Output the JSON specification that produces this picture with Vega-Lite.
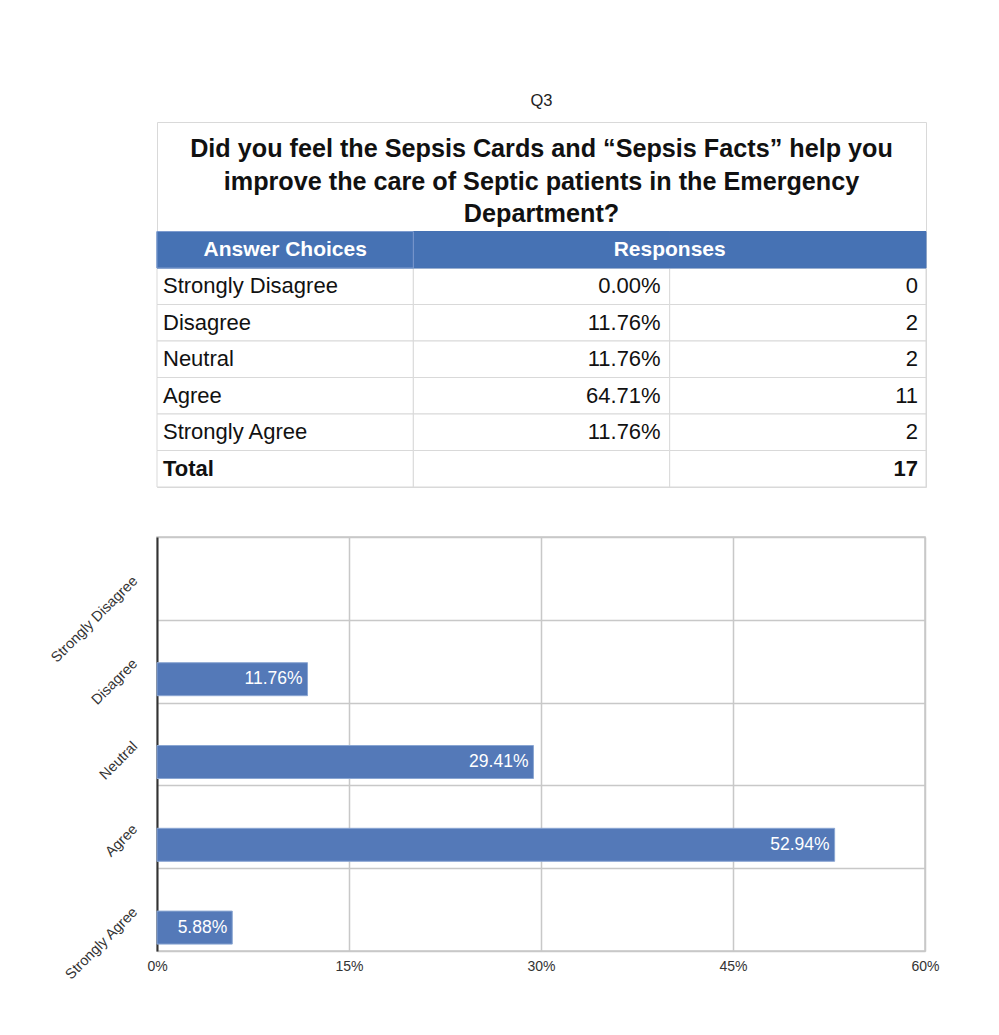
{
  "$schema": "https://vega.github.io/schema/vega-lite/v6.json",
  "background": "white",
  "padding": {"left": 47, "top": 92, "right": 5, "bottom": 5},
  "spacing": 42,
  "config": {"font": "Liberation Sans", "view": {"stroke": null}},
  "datasets": {
    "table": [
      {"choice": "Strongly Disagree", "percent": "0.00%", "count": "0"},
      {"choice": "Disagree", "percent": "11.76%", "count": "2"},
      {"choice": "Neutral", "percent": "11.76%", "count": "2"},
      {"choice": "Agree", "percent": "64.71%", "count": "11"},
      {"choice": "Strongly Agree", "percent": "11.76%", "count": "2"},
      {"choice": "Total", "percent": "", "count": "17"}
    ],
    "chart": [
      {"choice": "Strongly Disagree", "share": 0},
      {"choice": "Disagree", "share": 0.1176},
      {"choice": "Neutral", "share": 0.2941},
      {"choice": "Agree", "share": 0.5294},
      {"choice": "Strongly Agree", "share": 0.0588}
    ]
  },
  "vconcat": [
    {
      "width": 769,
      "height": 365,
      "title": {"text": "Q3", "fontSize": 16.5, "fontWeight": "normal", "color": "#222", "anchor": "middle", "frame": "group", "offset": 13},
      "view": {"stroke": "#d9d9d9"},
      "layer": [
        {
          "data": {"name": "table"},
          "transform": [{"fold": ["choice", "percent", "count"], "as": ["col", "val"]}],
          "mark": {"type": "rect", "fill": "white", "stroke": "#d9d9d9", "strokeWidth": 1},
          "encoding": {
            "x": {"field": "col", "type": "nominal", "scale": {"domain": ["choice", "percent", "count"], "paddingInner": 0, "paddingOuter": 0}, "axis": null},
            "y": {"field": "choice", "type": "nominal", "scale": {"domain": ["t1", "t2", "t3", "head", "Strongly Disagree", "Disagree", "Neutral", "Agree", "Strongly Agree", "Total"], "paddingInner": 0, "paddingOuter": 0}, "axis": null}
          }
        },
        {
          "data": {"values": [{"col": "choice"}, {"col": "percent"}, {"col": "count"}]},
          "mark": {"type": "rect", "fill": "#4672b4", "stroke": "#4672b4", "strokeWidth": 1},
          "encoding": {
            "x": {"field": "col", "type": "nominal"},
            "y": {"datum": "head"}
          }
        },
        {
          "data": {"values": [{"col": "choice"}]},
          "mark": {"type": "rect", "fill": "#4672b4", "stroke": "#7d9bcf", "strokeWidth": 1},
          "encoding": {
            "x": {"field": "col", "type": "nominal"},
            "y": {"datum": "head"}
          }
        },
        {
          "data": {"values": [{"title": "Did you feel the Sepsis Cards and “Sepsis Facts” help you\nimprove the care of Septic patients in the Emergency\nDepartment?"}]},
          "mark": {"type": "text", "fontSize": 25.2, "fontWeight": "bold", "lineBreak": "\n", "lineHeight": 32.5, "color": "#111", "dy": 9},
          "encoding": {
            "x": {"datum": "percent", "bandPosition": 0.5},
            "y": {"datum": "t1", "bandPosition": 0.5},
            "text": {"field": "title"}
          }
        },
        {
          "data": {"values": [{"head": "Answer Choices"}]},
          "mark": {"type": "text", "fontSize": 21, "fontWeight": "bold", "color": "white"},
          "encoding": {
            "x": {"datum": "choice", "bandPosition": 0.5},
            "y": {"datum": "head"},
            "text": {"field": "head"}
          }
        },
        {
          "data": {"values": [{"head": "Responses"}]},
          "mark": {"type": "text", "fontSize": 21, "fontWeight": "bold", "color": "white"},
          "encoding": {
            "x": {"datum": "count", "bandPosition": 0},
            "y": {"datum": "head"},
            "text": {"field": "head"}
          }
        },
        {
          "data": {"name": "table"},
          "transform": [{"filter": "datum.choice !== 'Total'"}],
          "mark": {"type": "text", "fontSize": 22, "align": "left", "dx": 6, "color": "#111"},
          "encoding": {
            "x": {"datum": "choice", "bandPosition": 0},
            "y": {"field": "choice", "type": "nominal"},
            "text": {"field": "choice"}
          }
        },
        {
          "data": {"name": "table"},
          "transform": [{"filter": "datum.choice === 'Total'"}],
          "mark": {"type": "text", "fontSize": 22, "fontWeight": "bold", "align": "left", "dx": 6, "color": "#111"},
          "encoding": {
            "x": {"datum": "choice", "bandPosition": 0},
            "y": {"field": "choice", "type": "nominal"},
            "text": {"field": "choice"}
          }
        },
        {
          "data": {"name": "table"},
          "mark": {"type": "text", "fontSize": 22, "align": "right", "dx": -9, "color": "#111"},
          "encoding": {
            "x": {"datum": "percent", "bandPosition": 1},
            "y": {"field": "choice", "type": "nominal"},
            "text": {"field": "percent"}
          }
        },
        {
          "data": {"name": "table"},
          "transform": [{"filter": "datum.choice !== 'Total'"}],
          "mark": {"type": "text", "fontSize": 22, "align": "right", "dx": -8, "color": "#111"},
          "encoding": {
            "x": {"datum": "count", "bandPosition": 1},
            "y": {"field": "choice", "type": "nominal"},
            "text": {"field": "count"}
          }
        },
        {
          "data": {"name": "table"},
          "transform": [{"filter": "datum.choice === 'Total'"}],
          "mark": {"type": "text", "fontSize": 22, "fontWeight": "bold", "align": "right", "dx": -8, "color": "#111"},
          "encoding": {
            "x": {"datum": "count", "bandPosition": 1},
            "y": {"field": "choice", "type": "nominal"},
            "text": {"field": "count"}
          }
        }
      ]
    },
    {
      "width": 768,
      "height": 414,
      "view": {"stroke": "#c8c8c8", "strokeWidth": 1.5},
      "data": {"name": "chart"},
      "encoding": {
        "y": {
          "field": "choice", "type": "nominal",
          "scale": {"domain": ["Strongly Disagree", "Disagree", "Neutral", "Agree", "Strongly Agree"], "paddingInner": 0, "paddingOuter": 0},
          "axis": {"title": null, "labelAngle": -45, "labelAlign": "right", "labelBaseline": "middle", "labelPadding": 22, "labelFontSize": 14.5, "labelColor": "#333", "ticks": false, "domainColor": "#333", "domainWidth": 2, "grid": true, "gridColor": "#c8c8c8", "gridWidth": 1.5, "tickBand": "extent"}
        },
        "x": {
          "field": "share", "type": "quantitative",
          "scale": {"domain": [0, 0.6], "nice": false},
          "axis": {"title": null, "values": [0, 0.15, 0.3, 0.45, 0.6], "format": ".0%", "labelFontSize": 14, "labelColor": "#333", "ticks": false, "domain": false, "grid": true, "gridColor": "#c8c8c8", "gridWidth": 1.5, "labelPadding": 8, "labelFlush": false}
        }
      },
      "layer": [
        {
          "transform": [{"filter": "datum.share > 0"}],
          "mark": {"type": "bar", "height": 33, "yOffset": 18, "color": "#5479b8", "stroke": "#8aa6d2", "strokeWidth": 1}
        },
        {
          "transform": [{"filter": "datum.share > 0"}],
          "mark": {"type": "text", "align": "right", "dx": -5, "yOffset": 18, "color": "white", "fontSize": 17.5},
          "encoding": {"text": {"field": "share", "format": ".2%"}}
        }
      ]
    }
  ]
}
